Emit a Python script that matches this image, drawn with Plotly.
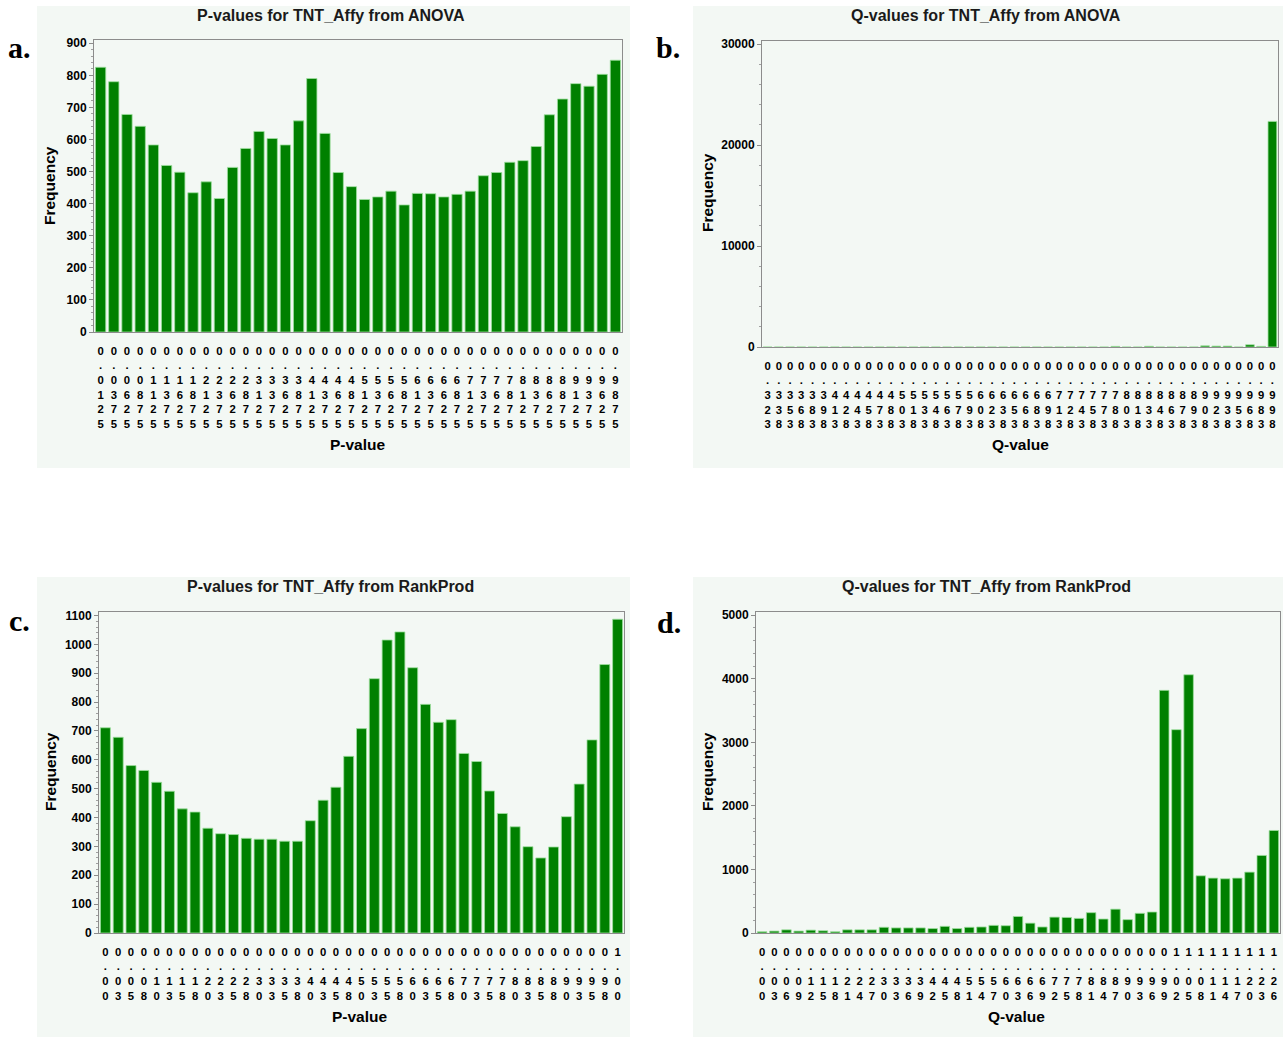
import plotly.graph_objects as go

# ---- data -------------------------------------------------------------
anova_p_bins = ["0.0125","0.0375","0.0625","0.0875","0.1125","0.1375","0.1625","0.1875",
                "0.2125","0.2375","0.2625","0.2875","0.3125","0.3375","0.3625","0.3875",
                "0.4125","0.4375","0.4625","0.4875","0.5125","0.5375","0.5625","0.5875",
                "0.6125","0.6375","0.6625","0.6875","0.7125","0.7375","0.7625","0.7875",
                "0.8125","0.8375","0.8625","0.8875","0.9125","0.9375","0.9625","0.9875"]
anova_p_freq = [825, 780, 678, 641, 583, 519, 498, 434, 468, 416,
                513, 572, 625, 603, 583, 658, 790, 619, 497, 453,
                413, 421, 439, 396, 432, 431, 421, 429, 439, 487,
                497, 529, 534, 578, 677, 726, 774, 766, 803, 847]

anova_q_bins = ["0.323","0.338","0.353","0.368","0.383","0.398","0.413","0.428","0.443","0.458",
                "0.473","0.488","0.503","0.518","0.533","0.548","0.563","0.578","0.593","0.608",
                "0.623","0.638","0.653","0.668","0.683","0.698","0.713","0.728","0.743","0.758",
                "0.773","0.788","0.803","0.818","0.833","0.848","0.863","0.878","0.893","0.908",
                "0.923","0.938","0.953","0.968","0.983","0.998"]
anova_q_freq = [0, 0, 0, 0, 0, 0, 0, 0, 0, 0,
                0, 0, 0, 0, 0, 0, 0, 0, 0, 0,
                0, 0, 0, 0, 0, 0, 0, 0, 0, 0,
                0, 60, 0, 0, 70, 0, 0, 0, 0, 120,
                90, 90, 0, 220, 60, 22340]

rp_p_bins = ["0.00","0.03","0.05","0.08","0.10","0.13","0.15","0.18","0.20","0.23","0.25",
             "0.28","0.30","0.33","0.35","0.38","0.40","0.43","0.45","0.48","0.50","0.53",
             "0.55","0.58","0.60","0.63","0.65","0.68","0.70","0.73","0.75","0.78","0.80",
             "0.83","0.85","0.88","0.90","0.93","0.95","0.98","1.00"]
rp_p_freq = [711, 678, 580, 563, 522, 491, 430, 419, 363, 344, 341,
             328, 325, 325, 318, 318, 389, 460, 505, 612, 708, 881,
             1015, 1043, 919, 792, 730, 739, 622, 594, 492, 414, 368,
             299, 260, 298, 403, 516, 669, 930, 1087]

rp_q_bins = ["0.00","0.03","0.06","0.09","0.12","0.15","0.18","0.21","0.24","0.27","0.30",
             "0.33","0.36","0.39","0.42","0.45","0.48","0.51","0.54","0.57","0.60","0.63",
             "0.66","0.69","0.72","0.75","0.78","0.81","0.84","0.87","0.90","0.93","0.96",
             "0.99","1.02","1.05","1.08","1.11","1.14","1.17","1.20","1.23","1.26"]
rp_q_freq = [20, 30, 50, 30, 45, 35, 20, 50, 50, 50, 90,
             80, 80, 80, 70, 105, 70, 90, 95, 120, 115, 260,
             155, 95, 250, 245, 230, 320, 220, 375, 210, 310, 330,
             3817, 3199, 4063, 900, 864, 853, 864, 958, 1220, 1613]

panel_titles = ["P-values for TNT_Affy from ANOVA", "Q-values for TNT_Affy from ANOVA",
                "P-values for TNT_Affy from RankProd", "Q-values for TNT_Affy from RankProd"]
x_titles = ["P-value", "Q-value", "P-value", "Q-value"]
panel_letters = ["a.", "b.", "c.", "d."]

# ---- layout helpers ---------------------------------------------------
W, H = 1283, 1037
FONT = "Liberation Sans, Arial, sans-serif"
PANEL_BG = "#f3f8f4"
BAR = "#008000"
EDGE = "#9fe09f"
FRAME = "#8c8c8c"


def px_x(x):
    return x / W


def px_y(y):
    return 1 - y / H


def stacked(label):
    return "<br>".join(list(label))


# plot-area boxes (left, top, right, bottom) and background boxes in pixels
plot_boxes = [(94, 40, 622, 332), (762, 41, 1278, 347),
              (99, 612, 624, 933), (756, 612, 1280, 933)]
bg_boxes = [(37, 6, 630, 468), (693, 6, 1283, 468),
            (37, 577, 630, 1037), (693, 577, 1283, 1037)]
y_ranges = [[0, 910], [0, 30300], [0, 1112], [0, 5050]]
y_dticks = [100, 10000, 100, 1000]
y_minor = [20, 2000, 20, 200]
title_pos = [(331, 15), (986, 15), (330, 586), (986, 586)]
xtitle_pos = [(358, 444), (1020, 444), (360, 1016), (1016, 1016)]
ytitle_pos = [(50, 186), (707, 193), (50, 772), (707, 772)]
letter_pos = [(19, 47), (668, 47), (19, 620), (669, 622)]

series = [(anova_p_bins, anova_p_freq), (anova_q_bins, anova_q_freq),
          (rp_p_bins, rp_p_freq), (rp_q_bins, rp_q_freq)]

fig = go.Figure()
layout = dict(
    width=W, height=H,
    margin=dict(l=0, r=0, t=0, b=0, pad=0, autoexpand=False),
    paper_bgcolor="white",
    plot_bgcolor="rgba(0,0,0,0)",
    showlegend=False,
    bargap=0.22,
    font=dict(family=FONT, color="black"),
    shapes=[], annotations=[],
)

tick_font_x = dict(family=FONT, size=11.3, color="black", weight="bold")
tick_font_y = dict(family=FONT, size=12, color="black", weight="bold")

for i, (bins, freq) in enumerate(series):
    n = "" if i == 0 else str(i + 1)
    fig.add_trace(go.Bar(
        x=bins, y=freq, xaxis="x" + n, yaxis="y" + n,
        marker=dict(color=BAR, line=dict(color=EDGE, width=0.8)),
        hoverinfo="x+y",
    ))
    l, t, r, b = plot_boxes[i]
    layout["xaxis" + n] = dict(
        domain=[px_x(l), px_x(r)], anchor="y" + n, automargin=False,
        type="category", tickvals=bins, ticktext=[stacked(s) for s in bins],
        tickfont=tick_font_x,
        ticks="outside", ticklen=8, tickcolor="rgba(0,0,0,0)",
        showline=True, linecolor=FRAME, linewidth=1, mirror=True,
        showgrid=False, zeroline=False, tickangle=0,
        range=[-0.5, len(bins) - 0.5],
    )
    layout["yaxis" + n] = dict(
        domain=[px_y(b), px_y(t)], anchor="x" + n, automargin=False,
        range=y_ranges[i], dtick=y_dticks[i], tick0=0, tickformat="d",
        tickfont=tick_font_y,
        ticks="outside", ticklen=4, tickcolor=FRAME,
        minor=dict(dtick=y_minor[i], ticks="outside", ticklen=2, tickcolor="#a0a0a0"),
        showline=True, linecolor=FRAME, linewidth=1, mirror=True,
        showgrid=False, zeroline=False,
    )
    bl, bt, br, bb = bg_boxes[i]
    layout["shapes"].append(dict(
        type="rect", xref="paper", yref="paper", layer="below",
        x0=px_x(bl), x1=px_x(br), y0=px_y(bb), y1=px_y(bt),
        fillcolor=PANEL_BG, line=dict(width=0),
    ))
    tx, ty = title_pos[i]
    layout["annotations"].append(dict(
        text="<b>%s</b>" % panel_titles[i], x=px_x(tx), y=px_y(ty),
        xref="paper", yref="paper", showarrow=False,
        xanchor="center", yanchor="middle",
        font=dict(family=FONT, size=16, color="#1a1a1a"),
    ))
    ax, ay = xtitle_pos[i]
    layout["annotations"].append(dict(
        text="<b>%s</b>" % x_titles[i], x=px_x(ax), y=px_y(ay),
        xref="paper", yref="paper", showarrow=False,
        xanchor="center", yanchor="middle",
        font=dict(family=FONT, size=15.5, color="black"),
    ))
    fx, fy = ytitle_pos[i]
    layout["annotations"].append(dict(
        text="<b>Frequency</b>", x=px_x(fx), y=px_y(fy),
        xref="paper", yref="paper", showarrow=False, textangle=-90,
        xanchor="center", yanchor="middle",
        font=dict(family=FONT, size=15.5, color="black"),
    ))
    lx, ly = letter_pos[i]
    layout["annotations"].append(dict(
        text="<b>%s</b>" % panel_letters[i], x=px_x(lx), y=px_y(ly),
        xref="paper", yref="paper", showarrow=False,
        xanchor="center", yanchor="middle",
        font=dict(family="Liberation Serif, Times New Roman, serif", size=30, color="black"),
    ))

fig.update_layout(**layout)
fig.write_html("out.html")
